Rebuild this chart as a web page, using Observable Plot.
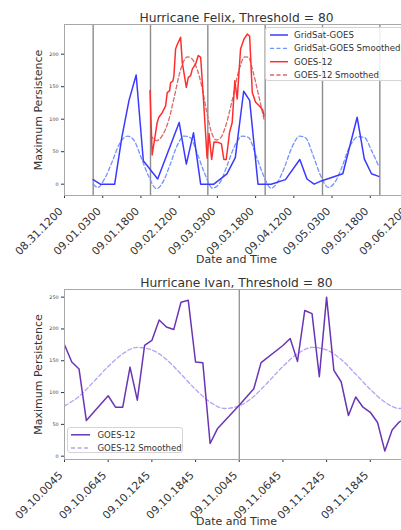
<!DOCTYPE html>
<html><head><meta charset="utf-8">
<script src="https://cdn.jsdelivr.net/npm/d3@7"></script>
<script src="https://cdn.jsdelivr.net/npm/@observablehq/plot@0.6"></script>
<style>
html,body{margin:0;padding:0;background:#fff;overflow:hidden;width:401px;height:530px}
#wrap{position:relative;width:401px;height:530px;overflow:hidden;font-family:"DejaVu Sans",sans-serif}
.chart{position:absolute;left:0;width:418px}
.chart svg{max-width:none !important;width:418px !important;display:block}
.leg{position:absolute;background:rgba(255,255,255,0.85);border:1px solid #d4d4d4;border-radius:3px;box-sizing:border-box}
.leg svg{position:absolute;left:0;top:0;overflow:visible}
.leg text{font-family:"DejaVu Sans",sans-serif;fill:#333}
</style>
</head><body>
<div id="wrap">
  <div id="felix" class="chart" style="top:0"></div>
  <div id="ivan" class="chart" style="top:268px"></div>
</div>
<script>
// ---------- Felix data ----------
const felixTitle = "Hurricane Felix, Threshold = 80";
const felixTickHours = [0,16,32,48,64,80,96,112,128,144];
const felixTickLabels = ["08.31.1200","09.01.0300","09.01.1800","09.02.1200","09.03.0300","09.03.1800","09.04.1200","09.05.0300","09.05.1800","09.06.1200"];
const felixDayLines = [12,36,60,84,108,132];
const felixYTicks = [0,50,100,150,200];

const gridSatHours  = [12,15,21,24,27,30,33,39,48,51,54,57,62.5,68,71.5,75,77.5,81,86.5,92.5,98.5,101.5,104.5,107.5,116.5,122.5,125.5,128.5,131.5];
const gridSatValues = [7,0,0,72,129,168,36,8,95,31,79,0,0,16,41,143,129,0,0,7,38,8,0,5,16,103,39,16,12];

const gridSatSmoothHours  = [12,14,17,20,23,26.5,29,32,35,38.5,41,44,47,50,52.5,55.5,58.5,62,65,68,71,74.5,77,80,83,86.5,89,92,95,98.5,101,104,107,110.5,113,116,119,123,125.5,128.5,131.5];
const gridSatSmoothValues = [0,-5,10,35,62,74,68,42,14,-7,2,28,58,74,72,48,18,-6,2,28,57,74,72,46,16,-6,2,25,55,74,71,45,15,-5,2,25,55,73,72,52,28];

const goesFelixHours  = [35.8,36.7,38.8,39.5,40.9,42.3,43,44,44.4,45.4,45.8,46.5,47.2,48.6,49.3,51,51.8,52.8,53.5,54.9,56,57,57.9,59.7,60.5,61.6,62.6,64.6,65.7,66.7,67.7,69.1,70.2,71.3,72.3,73.7,75.1,76.5,77.5,78.6,80,81.4,83,83.5];
const goesFelixValues = [144,45,95,103,110,120,141,144,156,159,167,208,215,226,187,149,164,167,177,185,198,195,146,40,78,38,65,64,62,38,38,80,95,159,131,208,223,231,228,141,126,121,114,105];

const goesFelixSmoothHours  = [36,38.5,41,43.5,46,48.5,51.5,53,55.5,57.5,59.5,61.5,63.5,65.5,67.5,70,73,75.5,77,79,81,83.5];
const goesFelixSmoothValues = [75,67,75,97,135,175,196,194,177,150,112,80,68,72,90,126,175,196,195,172,141,100];

// ---------- Ivan data ----------
const ivanTitle = "Hurricane Ivan, Threshold = 80";
const ivanTickHours = [0,6,12,18,24,30,36,42];
const ivanTickLabels = ["09.10.0045","09.10.0645","09.10.1245","09.10.1845","09.11.0045","09.11.0645","09.11.1245","09.11.1845"];
const ivanDayLines = [24];
const ivanYTicks = [0,50,100,150,200,250];

const ivanHours  = [0,1,2,3,6,7,8,9,10,11,12,13,14,15,16,17,18,19,20,21,24,26,27,30,31,32,33,34,35,36,37,38,39,40,41,42,43,44,45,46,47];
const ivanValues = [175,148,137,56,95,77,77,140,88,174,182,214,203,199,242,245,148,147,20,43,80,106,147,174,185,149,229,224,125,250,135,117,64,93,77,69,53,8,41,54,60];

const ivanSmoothHours  = [0,2,4,6,8,10,12,14,16,18,20,22,24,26,28,30,32,34,36,38,40,42,44,46,48];
const ivanSmoothValues = [79,94,117,141,161,171,167,152,129,105,85,75,79,94,117,141,161,171,167,152,129,105,85,75,79];

const zip = (h, v) => h.map((x, i) => ({h: x, v: v[i]}));

const font = "DejaVu Sans, sans-serif";

function chart({title, height, mTop, mBottom, xDomain, yDomain, tickHours, tickLabels, dayLines, yTicks, dayStroke, dayWidth, series}) {
  return Plot.plot({
    width: 418, height,
    marginLeft: 64, marginRight: 10, marginTop: mTop, marginBottom: mBottom,
    style: {fontFamily: font, background: "transparent", color: "#333", overflow: "visible"},
    x: {domain: xDomain, ticks: tickHours, tickFormat: () => "", tickSize: 3, label: null},
    y: {domain: yDomain, ticks: yTicks, tickFormat: () => "", tickSize: 3, label: null},
    marks: [
      Plot.ruleX(dayLines, {x: d => d, stroke: dayStroke, strokeWidth: dayWidth}),
      ...series.map(s => Plot.line(zip(s.h, s.v), {x: "h", y: "v", stroke: s.color, strokeWidth: s.width, strokeDasharray: s.dash, curve: s.curve || "linear", clip: true})),
      Plot.frame({stroke: "#a8a8a8", strokeWidth: 1}),
      Plot.text(tickHours, {x: d => d, text: (d, i) => tickLabels[i], frameAnchor: "bottom", rotate: -45, textAnchor: "end", lineAnchor: "middle", dx: -3.5, dy: 14, fontSize: 10.8, fill: "#333"}),
      Plot.text(yTicks, {y: d => d, text: d => String(d), frameAnchor: "left", textAnchor: "end", dx: -6, fontSize: 4.8, fill: "#444"}),
      Plot.text([title], {text: d => d, frameAnchor: "top", textAnchor: "middle", lineAnchor: "bottom", dy: -3, fontSize: 12.3, fill: "#333"}),
      Plot.text(["Maximum Persistence"], {text: d => d, frameAnchor: "left", textAnchor: "middle", lineAnchor: "middle", rotate: -90, dx: -26, fontSize: 11, fill: "#333"}),
      Plot.text(["Date and Time"], {text: d => d, frameAnchor: "bottom", textAnchor: "middle", lineAnchor: "middle", dy: mBottom - 9, fontSize: 11, fill: "#333"})
    ]
  });
}

const felix = chart({
  title: felixTitle, height: 268, mTop: 24, mBottom: 73,
  xDomain: [0, 144], yDomain: [-17.4, 245.7],
  tickHours: felixTickHours, tickLabels: felixTickLabels, dayLines: felixDayLines, yTicks: felixYTicks,
  dayStroke: "#8c8c8c", dayWidth: 1.4,
  series: [
    {h: gridSatSmoothHours, v: gridSatSmoothValues, color: "#7393ff", width: 1.3, dash: "4,2.5", curve: "monotone-x"},
    {h: gridSatHours, v: gridSatValues, color: "#3a3aff", width: 1.5},
    {h: goesFelixSmoothHours, v: goesFelixSmoothValues, color: "#d86a6a", width: 1.3, dash: "4,2.5", curve: "monotone-x"},
    {h: goesFelixHours, v: goesFelixValues, color: "#ff2e2e", width: 1.5}
  ]
});
document.getElementById("felix").appendChild(felix);

const ivan = chart({
  title: ivanTitle, height: 262, mTop: 21, mBottom: 71,
  xDomain: [0, 47.25], yDomain: [-5.2, 262],
  tickHours: ivanTickHours, tickLabels: ivanTickLabels, dayLines: ivanDayLines, yTicks: ivanYTicks,
  dayStroke: "#707070", dayWidth: 1,
  series: [
    {h: ivanSmoothHours, v: ivanSmoothValues, color: "#b4a2f4", width: 1.3, dash: "4,2.5", curve: "monotone-x"},
    {h: ivanHours, v: ivanValues, color: "#6a35b4", width: 1.5}
  ]
});
document.getElementById("ivan").appendChild(ivan);

// ---------- legends ----------
function legend(left, top, w, h, items, fs, lx1, lx2, tx) {
  const div = document.createElement("div");
  div.className = "leg";
  Object.assign(div.style, {left: left + "px", top: top + "px", width: w + "px", height: h + "px"});
  const svg = d3.create("svg").attr("width", w).attr("height", h);
  items.forEach(it => {
    svg.append("line").attr("x1", lx1).attr("x2", lx2).attr("y1", it.y).attr("y2", it.y)
      .attr("stroke", it.color).attr("stroke-width", it.width).attr("stroke-dasharray", it.dash || null);
    svg.append("text").attr("x", tx).attr("y", it.y).attr("dy", "0.35em").attr("font-size", fs).text(it.label);
  });
  div.appendChild(svg.node());
  document.getElementById("wrap").appendChild(div);
}
legend(265, 27, 145, 54, [
  {label: "GridSat-GOES", color: "#3a3aff", width: 1.5, y: 7},
  {label: "GridSat-GOES Smoothed", color: "#7393ff", width: 1.3, dash: "4,2.5", y: 20.3},
  {label: "GOES-12", color: "#ff2e2e", width: 1.5, y: 33.7},
  {label: "GOES-12 Smoothed", color: "#d86a6a", width: 1.3, dash: "4,2.5", y: 47}
], 8.6, 4, 22, 28);
legend(67, 426.5, 116, 26.5, [
  {label: "GOES-12", color: "#6a35b4", width: 1.5, y: 6.8},
  {label: "GOES-12 Smoothed", color: "#b4a2f4", width: 1.3, dash: "4,2.5", y: 20}
], 8.5, 3, 22, 29.5);
</script>
</body></html>
